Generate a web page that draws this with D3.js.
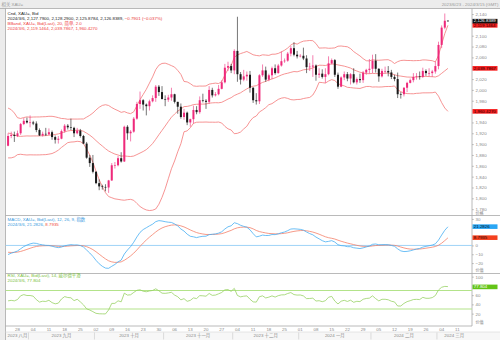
<!DOCTYPE html>
<html><head><meta charset="utf-8">
<script src="https://cdn.jsdelivr.net/npm/d3@7"></script>
<style>
html,body{margin:0;padding:0;background:#fff;}
svg{display:block;font-family:"Liberation Sans","Noto Sans CJK SC",Arial,sans-serif;}
</style></head><body>
<svg id="chart" width="500" height="340"></svg>
<script>
// XAU= daily bid candles, 2023-08-23 .. 2024-03-06 (axis runs to 2024-03-15)
const historyStart = "2023-06-23";
// closes before the visible window, used to seed the indicators
const historyClose = [
1921,1923,1913,1907,1908,1919,1921,1926,1915,1911,
1925,1925,1932,1957,1961,1955,1955,1979,1977,1969,
1962,1955,1965,1972,1946,1959,1965,1944,1934,1933,
1943,1936,1925,1915,1913,1914,1907,1902,1891,1889,
1889,1894,1897
];
const viewStart = "2023-08-23";
const viewEnd = "2024-03-15";
const open = [
1897,1915,1917,1915,1920,1937,1943,1940,1940,1938,
1926,1916,1919,1918,1922,1913,1908,1910,1924,1934,
1931,1930,1920,1925,1915,1901,1875,1865,1849,1828,
1822,1821,1820,1833,1861,1861,1874,1868,1932,1920,
1923,1947,1974,1981,1973,1970,1979,1985,2006,1996,
1983,1982,1986,1992,1978,1969,1950,1958,1940,1946,
1963,1959,1981,1980,1978,2000,1990,1992,2002,2014,
2041,2044,2036,2072,2029,2019,2025,2028,2004,1981,
1979,2027,2036,2019,2027,2040,2031,2045,2053,2054,
2067,2077,2065,2062,2063,2058,2042,2043,2045,2028,
2030,2024,2029,2049,2055,2028,2006,2023,2029,2021,
2029,2014,2020,2018,2032,2037,2039,2054,2039,2025,
2035,2035,2032.26,2024,2020,1992.05,1992,2004,2013,2018,
2024,2025,2024,2035,2031,2031,2034,2044,2083,2114.95,
2127.79
];
const high = [
1920,1923,1923,1925,1939,1948,1949,1953,1943,1942,
1929,1923,1930,1929,1925,1916,1915,1927,1937,1937,
1947,1932,1930,1928,1917,1904,1880,1880,1850,1835,
1825,1826,1834,1865,1867,1878,1885,1934,1935,1926,
1950,1978,1997,1983,1975,1982,1990,2009,2009,2007,
1990,1991,2004,1993,1978,1975,1965,1960,1947,1971,
1970,1988,1993,1983,2007,2004,1996,2009,2018,2048,
2052,2048,2075,2135,2033,2037,2034,2035,2005,1994,
2029,2047,2043,2030,2043,2047,2048,2071,2058,2070,
2081,2088,2072,2066,2078,2064,2050,2064,2047,2040,
2038,2040,2062,2058,2057,2032,2025,2034,2033,2031,
2040,2023,2030,2035,2039,2057,2065,2066,2040,2039,
2043,2044,2037,2028,2032,1996,2005,2015,2021,2031,
2031,2034,2041,2038,2040,2037,2052,2089,2119,2141,
2128.29
];
const low = [
1896,1911,1904,1913,1917,1935,1938,1931,1935,1922,
1915,1914,1915,1917,1908,1901,1901,1909,1921,1927,
1926,1913,1918,1912,1900,1873,1858,1846,1826,1815,
1816,1813,1810,1832,1855,1859,1866,1867,1908,1905,
1921,1945,1965,1962,1953,1962,1977,1978,1989,1983,
1970,1978,1980,1975,1956,1947,1945,1935,1932,1938,
1955,1956,1977,1965,1974,1986,1988,1990,2001,2012,
2035,2031,2029,2015,2010,2016,2017,1995,1976,1973,
1974,2024,2015,2016,2020,2028,2030,2043,2050,2052,
2062,2062,2058,2060,2055,2031,2035,2024,2017,2022,
2021,2013,2027,2047,2024,2002,2005,2018,2016,2010,
2012,2010,2013,2013,2028,2030,2031,2032,2015,2023,
2030,2025,2020,2016,1985,1984,1988,1996,2012,2014,
2019,2019,2022,2026,2025,2024,2030,2038,2077,2112,
2125.8784
];
const close = [
1915,1917,1915,1920,1937,1943,1940,1940,1938,1926,
1916,1919,1918,1922,1913,1908,1910,1924,1934,1931,
1930,1920,1925,1915,1901,1875,1865,1849,1828,1822,
1821,1820,1833,1861,1861,1874,1868,1932,1920,1923,
1947,1974,1981,1973,1970,1979,1985,2006,1996,1983,
1982,1986,1992,1978,1969,1950,1958,1940,1946,1963,
1959,1981,1980,1978,2000,1990,1992,2002,2014,2041,
2044,2036,2072,2029,2019,2025,2028,2004,1981,1979,
2027,2036,2019,2027,2040,2031,2045,2053,2054,2067,
2077,2065,2062,2063,2058,2042,2043,2045,2028,2030,
2024,2029,2049,2055,2028,2006,2023,2029,2021,2029,
2014,2020,2018,2032,2037,2039,2054,2039,2025,2035,
2035,2032.26,2024,2020,1992.05,1992,2004,2013,2018,2024,
2025,2024,2035,2031,2031,2034,2044,2083,2114.95,2127.629,
2126.8389
];

// indicator settings and their last published values
const bbSettings = [20, 2];
const macdSettings = [12, 26, 9];
const rsiSettings = [14];
const bbLast = [2119.1464, 2039.7867, 1960.4270];
const macdLast = [21.2826, 8.7935];
const rsiLast = [77.804];

// axis ticks (levels sitting under a value tag are left out)
const priceTicks = [1780,1800,1820,1840,1860,1880,1900,1920,1940,1980,2000,2020,2060,2080,2100,2140];
const macdTicks = [-20,-10,0,30];
const rsiTicks = [20,40,60,100];
const rsiBands = [70, 30];
const monthNames = ["一月","二月","三月","四月","五月","六月","七月","八月","九月","十月","十一月","十二月"];

// ---------- indicators ----------
const allClose = historyClose.concat(close);
const offset = historyClose.length;

function ema(src, n, from) {
  const k = 2 / (n + 1), out = new Array(src.length).fill(null);
  let s = 0;
  for (let i = from; i < from + n; i++) s += src[i];
  out[from + n - 1] = s / n;
  for (let i = from + n; i < src.length; i++) out[i] = src[i] * k + out[i - 1] * (1 - k);
  return out;
}
const [bbN, bbK] = bbSettings;
const bbMid = [], bbUp = [], bbLo = [];
for (let i = 0; i < allClose.length; i++) {
  if (i < bbN - 1) { bbMid.push(null); bbUp.push(null); bbLo.push(null); continue; }
  const w = allClose.slice(i - bbN + 1, i + 1);
  const m = d3.mean(w);
  const sd = Math.sqrt(d3.mean(w, v => (v - m) * (v - m)));
  bbMid.push(m); bbUp.push(m + bbK * sd); bbLo.push(m - bbK * sd);
}
const [fN, sN, gN] = macdSettings;
const emaF = ema(allClose, fN, 0), emaS = ema(allClose, sN, 0);
const macd = allClose.map((_, i) => emaS[i] == null ? null : emaF[i] - emaS[i]);
const sig = ema(macd, gN, sN - 1);
const rsi = new Array(allClose.length).fill(null);
{
  const n = rsiSettings[0];
  let g = 0, l = 0;
  for (let i = 1; i <= n; i++) { const c = allClose[i] - allClose[i - 1]; if (c > 0) g += c; else l -= c; }
  g /= n; l /= n; rsi[n] = 100 - 100 / (1 + g / l);
  for (let i = n + 1; i < allClose.length; i++) {
    const c = allClose[i] - allClose[i - 1];
    g = (g * (n - 1) + Math.max(c, 0)) / n;
    l = (l * (n - 1) + Math.max(-c, 0)) / n;
    rsi[i] = l === 0 ? 100 : 100 - 100 / (1 + g / l);
  }
}

// ---------- layout ----------
const svg = d3.select("#chart");
const parse = d3.utcParse("%Y-%m-%d");
const dates = d3.utcDay.range(parse(viewStart), d3.utcDay.offset(parse(viewEnd), 1))
  .filter(d => d.getUTCDay() > 0 && d.getUTCDay() < 6);
const rightX = 472, leftX = 5.5;
const main = {top: 8.5, bottom: 215.5}, mpan = {top: 215.5, bottom: 273.5}, rpan = {top: 273.5, bottom: 326};

const x = d3.scaleBand().domain(d3.range(dates.length)).range([6.5, 471.5]).padding(0);
const xc = i => x(i) + x.bandwidth() / 2;
const y = d3.scaleLinear().domain([1768.3, 2149.3]).range([main.bottom, 9]);
const ym = d3.scaleLinear().domain([-31.8, 33.9]).range([mpan.bottom, mpan.top]);
const yr = d3.scaleLinear().domain([-6.8, 106.8]).range([rpan.bottom, rpan.top]);

// frame
svg.append("rect").attr("width", 500).attr("height", 340).attr("fill", "#ececec");
svg.append("rect").attr("x", leftX).attr("y", 8.5).attr("width", 500 - leftX).attr("height", 340 - 8.5).attr("fill", "#fff");
svg.append("rect").attr("x", leftX).attr("y", 332).attr("width", 500 - leftX).attr("height", 8).attr("fill", "#f7f7f7");
const frame = svg.append("g").attr("stroke", "#a8a8a8").attr("stroke-width", 0.8).attr("fill", "none");
frame.append("line").attr("x1", 0).attr("x2", 500).attr("y1", 8.5).attr("y2", 8.5);
frame.append("line").attr("x1", leftX).attr("x2", leftX).attr("y1", 8.5).attr("y2", 340);
frame.append("line").attr("x1", rightX).attr("x2", rightX).attr("y1", 8.5).attr("y2", rpan.bottom);
[mpan.top, rpan.top].forEach(v => frame.append("line").attr("x1", leftX).attr("x2", 500).attr("y1", v).attr("y2", v));
frame.append("line").attr("x1", leftX).attr("x2", rightX).attr("y1", rpan.bottom).attr("y2", rpan.bottom);
frame.append("line").attr("x1", leftX).attr("x2", 500).attr("y1", 332).attr("y2", 332).attr("stroke", "#e0e0e0");

const fs = 4.4;
svg.append("text").attr("x", 1.5).attr("y", 4.4).attr("dominant-baseline", "middle")
  .attr("font-size", fs).attr("fill", "#9a9a9a").text("相关 XAU=");
svg.append("text").attr("x", 498.5).attr("y", 4.6).attr("dominant-baseline", "middle").attr("text-anchor", "end")
  .attr("font-size", fs).attr("fill", "#9a9a9a").text("2023/6/23 - 2024/3/15 (GMT)");

// clip paths
function clip(id, p) {
  svg.append("clipPath").attr("id", id).append("rect")
    .attr("x", leftX).attr("y", p.top).attr("width", rightX - leftX).attr("height", p.bottom - p.top);
  return svg.append("g").attr("clip-path", `url(#${id})`);
}
const gMain = clip("cMain", main), gMacd = clip("cMacd", mpan), gRsi = clip("cRsi", rpan);

const vis = d3.range(close.length);
const lineOf = (arr, ys) => d3.line().x(i => xc(i)).y(i => ys(arr[i + offset])).defined(i => arr[i + offset] != null)(vis);

// Bollinger bands
[bbUp, bbMid, bbLo].forEach(a => gMain.append("path").attr("d", lineOf(a, y))
  .attr("fill", "none").attr("stroke", "#f47878").attr("stroke-width", 0.8));

// candles
const up = "#ee2a7b", dn = "#1a1a1a";
const bw = x.bandwidth() * 0.64;
const cg = gMain.append("g");
vis.forEach(i => {
  const col = close[i] >= open[i] ? up : dn;
  cg.append("line").attr("x1", xc(i)).attr("x2", xc(i)).attr("y1", y(high[i])).attr("y2", y(low[i]))
    .attr("stroke", col).attr("stroke-width", 0.6);
  const t = y(Math.max(open[i], close[i])), b = y(Math.min(open[i], close[i]));
  cg.append("rect").attr("x", xc(i) - bw / 2).attr("width", bw)
    .attr("y", t).attr("height", Math.max(b - t, 0.6)).attr("fill", col);
});

// MACD
gMacd.append("line").attr("x1", leftX).attr("x2", rightX).attr("y1", ym(0)).attr("y2", ym(0))
  .attr("stroke", "#9fd3f7").attr("stroke-width", 1);
gMacd.append("path").attr("d", lineOf(sig, ym)).attr("fill", "none").attr("stroke", "#f4806a").attr("stroke-width", 0.8);
gMacd.append("path").attr("d", lineOf(macd, ym)).attr("fill", "none").attr("stroke", "#48aef2").attr("stroke-width", 0.8);

// RSI
rsiBands.forEach(v => gRsi.append("line").attr("x1", leftX).attr("x2", rightX).attr("y1", yr(v)).attr("y2", yr(v))
  .attr("stroke", "#b3e38a").attr("stroke-width", 1.2));
gRsi.append("path").attr("d", lineOf(rsi, yr)).attr("fill", "none").attr("stroke", "#98d265").attr("stroke-width", 0.8);

// right axes
function rAxis(scale, ticks, fmt, unit, unitY) {
  const g = svg.append("g").attr("transform", `translate(${rightX},0)`)
    .call(d3.axisRight(scale).tickValues(ticks).tickSize(1.8).tickPadding(1.8).tickFormat(fmt));
  g.select(".domain").remove();
  g.selectAll(".tick line").attr("stroke", "#999").attr("stroke-width", 0.6);
  g.selectAll(".tick text").attr("font-size", fs).attr("fill", "#888").attr("font-family", null);
  svg.append("text").attr("x", rightX + 3.5).attr("y", unitY).attr("dominant-baseline", "middle")
    .attr("font-size", 4.1).attr("fill", "#888").text(unit);
}
rAxis(y, priceTicks, d3.format(","), "价格", 213.6);
rAxis(ym, macdTicks, d3.format(""), "价值", 270.5);
rAxis(yr, rsiTicks, d3.format(""), "价值", 323);

function valBox(v, scale, txt, fill, tc) {
  const cy = scale(v);
  svg.append("rect").attr("x", rightX + 0.5).attr("y", cy - 2.3).attr("width", 25).attr("height", 4.6).attr("fill", fill);
  svg.append("text").attr("x", rightX + 1.8).attr("y", cy + 0.1).attr("dominant-baseline", "middle")
    .attr("font-size", fs).attr("fill", tc).text(txt);
}
const f4 = d3.format(",.4f");
valBox(bbLast[1], y, f4(bbLast[1]), "#f71e1e", "#200");
valBox(bbLast[2], y, f4(bbLast[2]), "#f71e1e", "#200");
valBox(bbLast[0], y, f4(bbLast[0]), "#f71e1e", "#200");
const lastI = close.length - 1;
valBox(close[lastI], y, f4(close[lastI]), "#111", "#fff");
valBox(macdLast[0], ym, d3.format(".4f")(macdLast[0]), "#2aa6f4", "#012");
valBox(macdLast[1], ym, d3.format(".4f")(macdLast[1]), "#f4401e", "#200");
valBox(rsiLast[0], yr, d3.format(".3f")(rsiLast[0]), "#63c417", "#fff");

// legends
function legendLine(yy, parts) {
  const t = svg.append("text").attr("x", 7.5).attr("y", yy).attr("dominant-baseline", "middle").attr("font-size", fs);
  parts.forEach(([s, c]) => t.append("tspan").attr("fill", c).text(s));
}
const dLab = d3.utcFormat("%Y/%-m/%-d")(dates[lastI]);
const chg = close[lastI] - close[lastI - 1];
legendLine(14, [["Cnd, XAU=, Bid", "#222"]]);
legendLine(19, [[`${dLab}, ${f4(open[lastI])}, ${f4(high[lastI])}, ${f4(low[lastI])}, ${f4(close[lastI])}, `, "#222"],
  [`${d3.format(".4f")(chg)} (${d3.format(".3f")(chg / close[lastI - 1] * 100)}%)`, "#ea3a3a"]]);
legendLine(24, [[`BBand, XAU=, Bid(Last), ${bbN}, 简单, ${bbK.toFixed(1)}`, "#ef4040"]]);
legendLine(29, [[`${dLab}, ${bbLast.map(f4).join(", ")}`, "#ef4040"]]);
legendLine(220, [[`MACD, XAU=, Bid(Last), ${macdSettings.join(", ")}, 指数`, "#3a9be0"]]);
legendLine(224.6, [[`${dLab}, ${d3.format(".4f")(macdLast[0])}, `, "#3a9be0"], [d3.format(".4f")(macdLast[1]), "#ef4a3a"]]);
legendLine(276.3, [[`RSI, XAU=, Bid(Last), ${rsiSettings[0]}, 威尔德平滑`, "#7cc13c"]]);
legendLine(280.9, [[`${dLab}, ${d3.format(".3f")(rsiLast[0])}`, "#7cc13c"]]);

// time axis: weekly day numbers and month row
const tg = svg.append("g").attr("font-size", fs).attr("fill", "#888").attr("text-anchor", "middle");
dates.forEach((d, i) => {
  if (d.getUTCDay() === 1) tg.append("text").attr("x", xc(i)).attr("y", 329.4).attr("dominant-baseline", "middle").text(d3.utcFormat("%d")(d));
});
const months = d3.groups(d3.range(dates.length), i => d3.utcFormat("%Y-%m")(dates[i]));
months.forEach(([k, idx], j) => {
  const a = x(idx[0]), b = x(idx[idx.length - 1]) + x.bandwidth();
  const d = dates[idx[0]];
  tg.append("text").attr("x", (a + b) / 2).attr("y", 335.8).attr("dominant-baseline", "middle")
    .text(`${d.getUTCFullYear()} ${monthNames[d.getUTCMonth()]}`);
  if (j > 0) svg.append("line").attr("x1", a).attr("x2", a).attr("y1", 332.5).attr("y2", 339.5)
    .attr("stroke", "#c8c8c8").attr("stroke-width", 0.6);
});
</script>
</body></html>
